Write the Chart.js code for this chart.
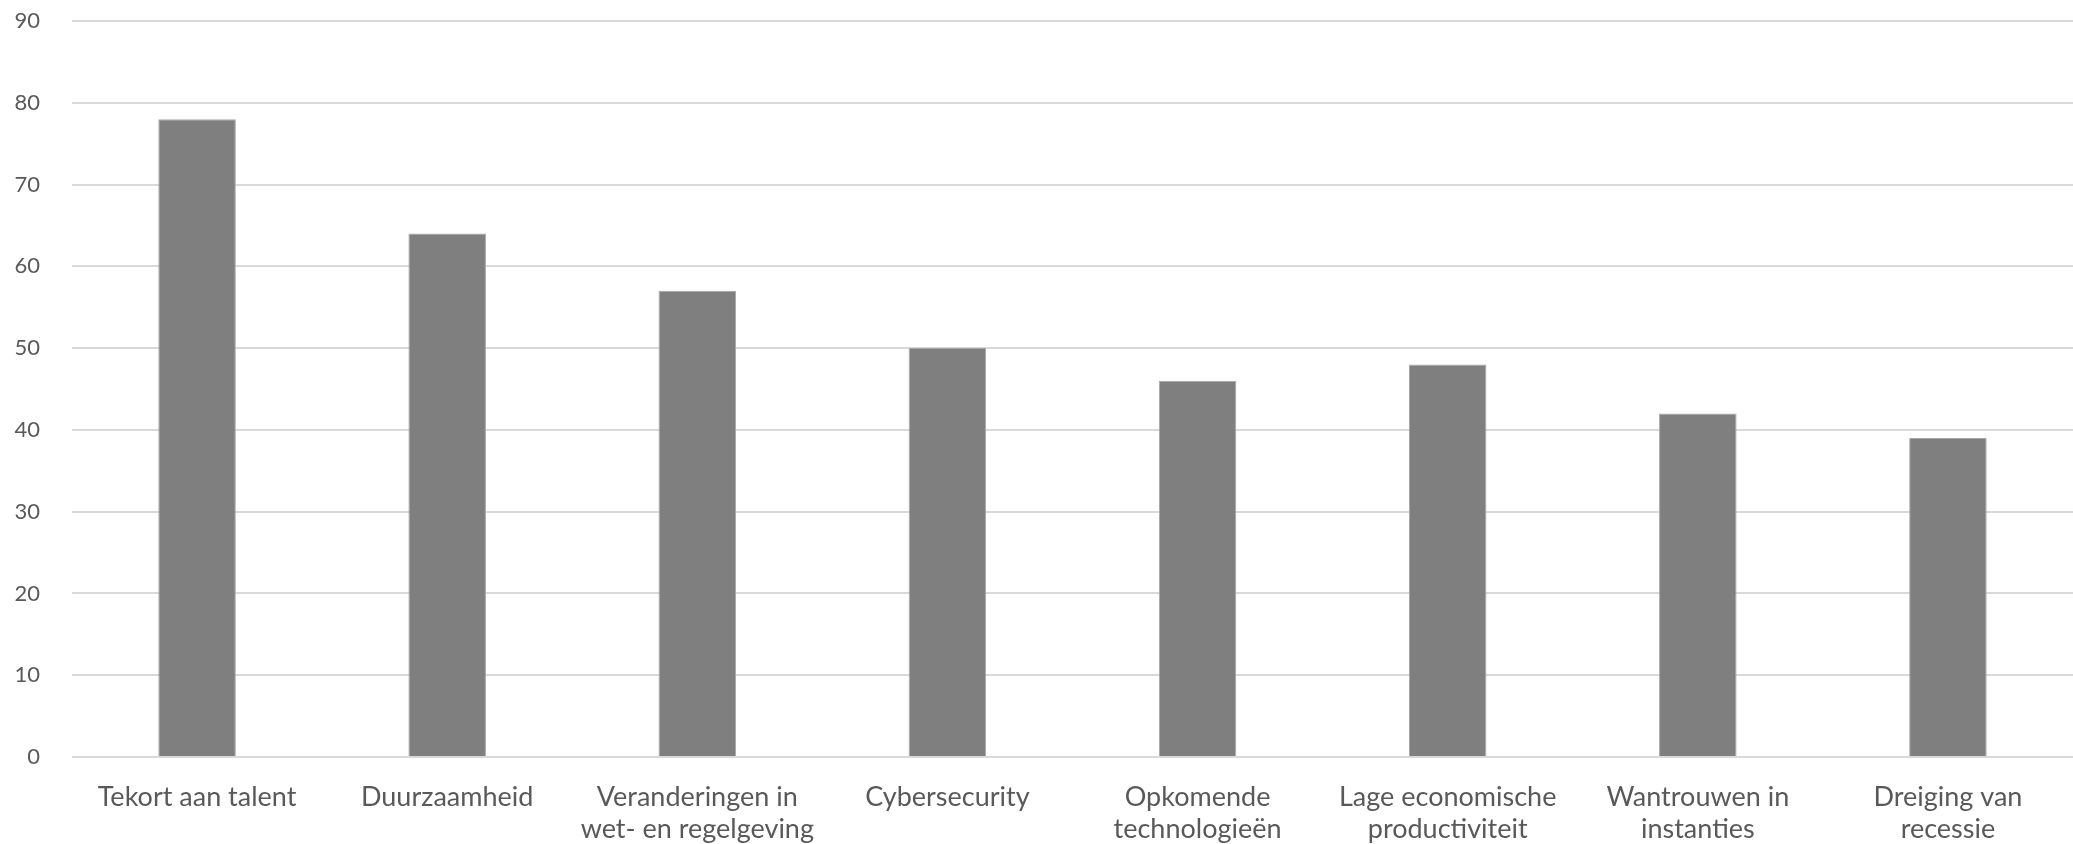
<!DOCTYPE html>
<html>
<head>
<meta charset="utf-8">
<script src="https://cdn.jsdelivr.net/npm/chart.js@4/dist/chart.umd.min.js"></script>
<style>
  html, body { margin: 0; padding: 0; background: #ffffff; }
  #wrap { width: 2073px; height: 844px; position: relative; }
</style>
</head>
<body>
<div id="wrap"><canvas id="c"></canvas></div>
<script>
const categories = [
  "Tekort aan talent",
  "Duurzaamheid",
  ["Veranderingen in", "wet- en regelgeving"],
  "Cybersecurity",
  ["Opkomende", "technologieën"],
  ["Lage economische", "productiviteit"],
  ["Wantrouwen in", "instanties"],
  ["Dreiging van", "recessie"]
];
const values = [78, 64, 57, 50, 46, 48, 42, 39];
const yMin = 0, yMax = 90, yStep = 10;

const FONT = "Lato, 'Open Sans', sans-serif";

new Chart(document.getElementById('c'), {
  type: 'bar',
  data: {
    labels: categories,
    datasets: [{
      data: values,
      backgroundColor: '#7f7f7f',
      borderColor: '#a6a6a6',
      borderWidth: 1,
      barPercentage: 0.31,
      categoryPercentage: 1.0
    }]
  },
  options: {
    responsive: true,
    maintainAspectRatio: false,
    animation: false,
    layout: { padding: { top: 21, right: 0, bottom: 0, left: 0 } },
    plugins: { legend: { display: false }, tooltip: { enabled: false } },
    scales: {
      x: {
        grid: { display: false, drawTicks: false },
        border: { display: false },
        ticks: {
          color: '#595959',
          font: { family: FONT, size: 27, lineHeight: 1.2 },
          padding: 24,
          maxRotation: 0,
          autoSkip: false
        },
        afterFit: (s) => { s.height = 87; s.paddingLeft = 0; s.paddingRight = 0; }
      },
      y: {
        min: yMin, max: yMax,
        grid: { color: '#d9d9d9', lineWidth: 2, drawTicks: false },
        border: { display: false },
        ticks: {
          stepSize: yStep,
          color: '#595959',
          font: { family: FONT, size: 22 },
          padding: 32
        },
        afterFit: (s) => { s.width = 72; s.paddingTop = 0; s.paddingBottom = 0; }
      }
    }
  }
});
</script>
</body>
</html>
